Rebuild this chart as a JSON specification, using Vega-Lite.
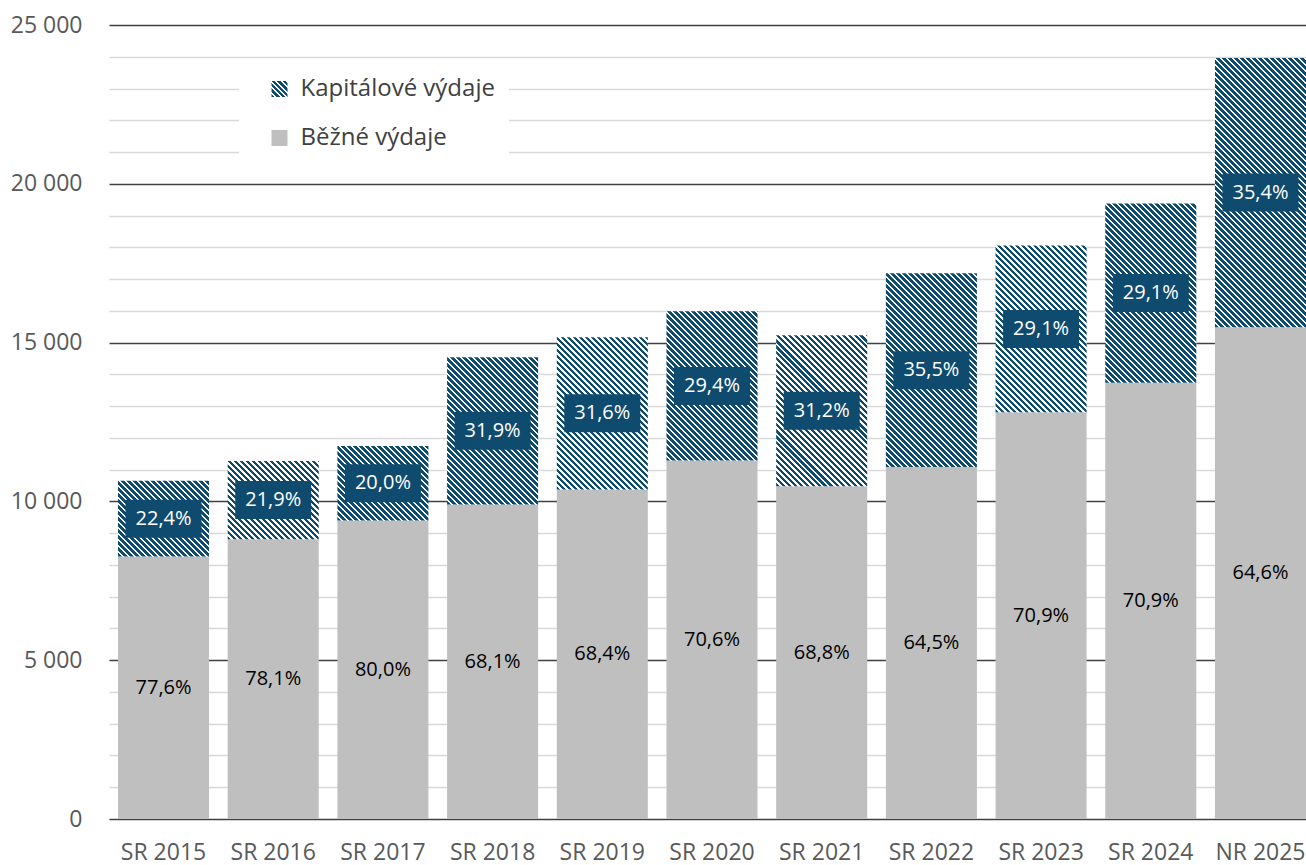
{
"$schema":"https://vega.github.io/schema/vega-lite/v6.json",
"width":1197,"height":794,"autosize":"none",
"padding":{"left":109,"top":25,"right":0,"bottom":46},
"background":"#ffffff",
"config":{"view":{"stroke":null},"font":"Open Sans","axis":{"labelFont":"Open Sans"},"legend":{"labelFont":"Open Sans"}},
"params":[
{"name":"hd","value":"#0f4b6e"},
{"name":"hw","value":"#ffffff"},
{"name":"hatch","expr":"[{offset:0,color:hd},{offset:0.0098,color:hd},{offset:0.0098,color:hw},{offset:0.0164,color:hw},{offset:0.0164,color:hd},{offset:0.0262,color:hd},{offset:0.0262,color:hw},{offset:0.0328,color:hw},{offset:0.0328,color:hd},{offset:0.0426,color:hd},{offset:0.0426,color:hw},{offset:0.0492,color:hw},{offset:0.0492,color:hd},{offset:0.059,color:hd},{offset:0.059,color:hw},{offset:0.0656,color:hw},{offset:0.0656,color:hd},{offset:0.0754,color:hd},{offset:0.0754,color:hw},{offset:0.082,color:hw},{offset:0.082,color:hd},{offset:0.0918,color:hd},{offset:0.0918,color:hw},{offset:0.0984,color:hw},{offset:0.0984,color:hd},{offset:0.1082,color:hd},{offset:0.1082,color:hw},{offset:0.1148,color:hw},{offset:0.1148,color:hd},{offset:0.1246,color:hd},{offset:0.1246,color:hw},{offset:0.1311,color:hw},{offset:0.1311,color:hd},{offset:0.141,color:hd},{offset:0.141,color:hw},{offset:0.1475,color:hw},{offset:0.1475,color:hd},{offset:0.1574,color:hd},{offset:0.1574,color:hw},{offset:0.1639,color:hw},{offset:0.1639,color:hd},{offset:0.1738,color:hd},{offset:0.1738,color:hw},{offset:0.1803,color:hw},{offset:0.1803,color:hd},{offset:0.1902,color:hd},{offset:0.1902,color:hw},{offset:0.1967,color:hw},{offset:0.1967,color:hd},{offset:0.2066,color:hd},{offset:0.2066,color:hw},{offset:0.2131,color:hw},{offset:0.2131,color:hd},{offset:0.223,color:hd},{offset:0.223,color:hw},{offset:0.2295,color:hw},{offset:0.2295,color:hd},{offset:0.2393,color:hd},{offset:0.2393,color:hw},{offset:0.2459,color:hw},{offset:0.2459,color:hd},{offset:0.2557,color:hd},{offset:0.2557,color:hw},{offset:0.2623,color:hw},{offset:0.2623,color:hd},{offset:0.2721,color:hd},{offset:0.2721,color:hw},{offset:0.2787,color:hw},{offset:0.2787,color:hd},{offset:0.2885,color:hd},{offset:0.2885,color:hw},{offset:0.2951,color:hw},{offset:0.2951,color:hd},{offset:0.3049,color:hd},{offset:0.3049,color:hw},{offset:0.3115,color:hw},{offset:0.3115,color:hd},{offset:0.3213,color:hd},{offset:0.3213,color:hw},{offset:0.3279,color:hw},{offset:0.3279,color:hd},{offset:0.3377,color:hd},{offset:0.3377,color:hw},{offset:0.3443,color:hw},{offset:0.3443,color:hd},{offset:0.3541,color:hd},{offset:0.3541,color:hw},{offset:0.3607,color:hw},{offset:0.3607,color:hd},{offset:0.3705,color:hd},{offset:0.3705,color:hw},{offset:0.377,color:hw},{offset:0.377,color:hd},{offset:0.3869,color:hd},{offset:0.3869,color:hw},{offset:0.3934,color:hw},{offset:0.3934,color:hd},{offset:0.4033,color:hd},{offset:0.4033,color:hw},{offset:0.4098,color:hw},{offset:0.4098,color:hd},{offset:0.4197,color:hd},{offset:0.4197,color:hw},{offset:0.4262,color:hw},{offset:0.4262,color:hd},{offset:0.4361,color:hd},{offset:0.4361,color:hw},{offset:0.4426,color:hw},{offset:0.4426,color:hd},{offset:0.4525,color:hd},{offset:0.4525,color:hw},{offset:0.459,color:hw},{offset:0.459,color:hd},{offset:0.4689,color:hd},{offset:0.4689,color:hw},{offset:0.4754,color:hw},{offset:0.4754,color:hd},{offset:0.4852,color:hd},{offset:0.4852,color:hw},{offset:0.4918,color:hw},{offset:0.4918,color:hd},{offset:0.5016,color:hd},{offset:0.5016,color:hw},{offset:0.5082,color:hw},{offset:0.5082,color:hd},{offset:0.518,color:hd},{offset:0.518,color:hw},{offset:0.5246,color:hw},{offset:0.5246,color:hd},{offset:0.5344,color:hd},{offset:0.5344,color:hw},{offset:0.541,color:hw},{offset:0.541,color:hd},{offset:0.5508,color:hd},{offset:0.5508,color:hw},{offset:0.5574,color:hw},{offset:0.5574,color:hd},{offset:0.5672,color:hd},{offset:0.5672,color:hw},{offset:0.5738,color:hw},{offset:0.5738,color:hd},{offset:0.5836,color:hd},{offset:0.5836,color:hw},{offset:0.5902,color:hw},{offset:0.5902,color:hd},{offset:0.6,color:hd},{offset:0.6,color:hw},{offset:0.6066,color:hw},{offset:0.6066,color:hd},{offset:0.6164,color:hd},{offset:0.6164,color:hw},{offset:0.623,color:hw},{offset:0.623,color:hd},{offset:0.6328,color:hd},{offset:0.6328,color:hw},{offset:0.6393,color:hw},{offset:0.6393,color:hd},{offset:0.6492,color:hd},{offset:0.6492,color:hw},{offset:0.6557,color:hw},{offset:0.6557,color:hd},{offset:0.6656,color:hd},{offset:0.6656,color:hw},{offset:0.6721,color:hw},{offset:0.6721,color:hd},{offset:0.682,color:hd},{offset:0.682,color:hw},{offset:0.6885,color:hw},{offset:0.6885,color:hd},{offset:0.6984,color:hd},{offset:0.6984,color:hw},{offset:0.7049,color:hw},{offset:0.7049,color:hd},{offset:0.7148,color:hd},{offset:0.7148,color:hw},{offset:0.7213,color:hw},{offset:0.7213,color:hd},{offset:0.7311,color:hd},{offset:0.7311,color:hw},{offset:0.7377,color:hw},{offset:0.7377,color:hd},{offset:0.7475,color:hd},{offset:0.7475,color:hw},{offset:0.7541,color:hw},{offset:0.7541,color:hd},{offset:0.7639,color:hd},{offset:0.7639,color:hw},{offset:0.7705,color:hw},{offset:0.7705,color:hd},{offset:0.7803,color:hd},{offset:0.7803,color:hw},{offset:0.7869,color:hw},{offset:0.7869,color:hd},{offset:0.7967,color:hd},{offset:0.7967,color:hw},{offset:0.8033,color:hw},{offset:0.8033,color:hd},{offset:0.8131,color:hd},{offset:0.8131,color:hw},{offset:0.8197,color:hw},{offset:0.8197,color:hd},{offset:0.8295,color:hd},{offset:0.8295,color:hw},{offset:0.8361,color:hw},{offset:0.8361,color:hd},{offset:0.8459,color:hd},{offset:0.8459,color:hw},{offset:0.8525,color:hw},{offset:0.8525,color:hd},{offset:0.8623,color:hd},{offset:0.8623,color:hw},{offset:0.8689,color:hw},{offset:0.8689,color:hd},{offset:0.8787,color:hd},{offset:0.8787,color:hw},{offset:0.8852,color:hw},{offset:0.8852,color:hd},{offset:0.8951,color:hd},{offset:0.8951,color:hw},{offset:0.9016,color:hw},{offset:0.9016,color:hd},{offset:0.9115,color:hd},{offset:0.9115,color:hw},{offset:0.918,color:hw},{offset:0.918,color:hd},{offset:0.9279,color:hd},{offset:0.9279,color:hw},{offset:0.9344,color:hw},{offset:0.9344,color:hd},{offset:0.9443,color:hd},{offset:0.9443,color:hw},{offset:0.9508,color:hw},{offset:0.9508,color:hd},{offset:0.9607,color:hd},{offset:0.9607,color:hw},{offset:0.9672,color:hw},{offset:0.9672,color:hd},{offset:0.977,color:hd},{offset:0.977,color:hw},{offset:0.9836,color:hw},{offset:0.9836,color:hd},{offset:0.9934,color:hd},{offset:0.9934,color:hw},{offset:1,color:hw}]"}
],
"data":{"values":[
{"cat":"SR 2015","type":"Běžné výdaje","value":8264,"pct":"77,6%"},
{"cat":"SR 2015","type":"Kapitálové výdaje","value":2386,"pct":"22,4%"},
{"cat":"SR 2016","type":"Běžné výdaje","value":8806,"pct":"78,1%"},
{"cat":"SR 2016","type":"Kapitálové výdaje","value":2469,"pct":"21,9%"},
{"cat":"SR 2017","type":"Běžné výdaje","value":9397,"pct":"80,0%"},
{"cat":"SR 2017","type":"Kapitálové výdaje","value":2349,"pct":"20,0%"},
{"cat":"SR 2018","type":"Běžné výdaje","value":9902,"pct":"68,1%"},
{"cat":"SR 2018","type":"Kapitálové výdaje","value":4639,"pct":"31,9%"},
{"cat":"SR 2019","type":"Běžné výdaje","value":10376,"pct":"68,4%"},
{"cat":"SR 2019","type":"Kapitálové výdaje","value":4794,"pct":"31,6%"},
{"cat":"SR 2020","type":"Běžné výdaje","value":11286,"pct":"70,6%"},
{"cat":"SR 2020","type":"Kapitálové výdaje","value":4700,"pct":"29,4%"},
{"cat":"SR 2021","type":"Běžné výdaje","value":10480,"pct":"68,8%"},
{"cat":"SR 2021","type":"Kapitálové výdaje","value":4752,"pct":"31,2%"},
{"cat":"SR 2022","type":"Běžné výdaje","value":11081,"pct":"64,5%"},
{"cat":"SR 2022","type":"Kapitálové výdaje","value":6099,"pct":"35,5%"},
{"cat":"SR 2023","type":"Běžné výdaje","value":12804,"pct":"70,9%"},
{"cat":"SR 2023","type":"Kapitálové výdaje","value":5255,"pct":"29,1%"},
{"cat":"SR 2024","type":"Běžné výdaje","value":13739,"pct":"70,9%"},
{"cat":"SR 2024","type":"Kapitálové výdaje","value":5639,"pct":"29,1%"},
{"cat":"NR 2025","type":"Běžné výdaje","value":15481,"pct":"64,6%"},
{"cat":"NR 2025","type":"Kapitálové výdaje","value":8483,"pct":"35,4%"}
]},
"transform":[
{"stack":"value","groupby":["cat"],"sort":[{"field":"type","order":"ascending"}],"as":["v0","v1"]},
{"calculate":"(datum.v0+datum.v1)/2","as":"mid"}
],
"encoding":{"x":{"field":"cat","type":"nominal","sort":null,"scale":{"paddingInner":0.17,"paddingOuter":0.041,"align":1},"axis":{"title":null,"labelAngle":0,"ticks":false,"domain":false,"labelFontSize":23,"labelColor":"#595959","labelPadding":22}}},
"layer":[
{"transform":[{"filter":"datum.type === 'Běžné výdaje'"}],
"mark":{"type":"bar"},
"encoding":{
"y":{"field":"v1","type":"quantitative","scale":{"domain":[0,25000],"nice":false},"axis":{"title":null,"values":[0,1000,2000,3000,4000,5000,6000,7000,8000,9000,10000,11000,12000,13000,14000,15000,16000,17000,18000,19000,20000,21000,22000,23000,24000,25000],"labelExpr":"datum.value % 5000 === 0 ? replace(format(datum.value, ','), ',', ' ') : ''","labelOverlap":false,"grid":true,"gridColor":{"condition":{"test":"datum.value % 5000 === 0","value":"#404040"},"value":"#d9d9d9"},"gridWidth":1.5,"ticks":false,"domain":false,"labelFontSize":23,"labelColor":"#595959","labelPadding":27}},
"y2":{"field":"v0"},
"color":{"field":"type","type":"nominal","scale":{"domain":["Kapitálové výdaje","Běžné výdaje"],"range":[{"expr":"{gradient: 'linear', x1: 0, y1: 1, x2: 1, y2: 0, stops: [{offset: 0, color: hd}, {offset: 0.1, color: hd}, {offset: 0.1, color: hw}, {offset: 0.1667, color: hw}, {offset: 0.1667, color: hd}, {offset: 0.2667, color: hd}, {offset: 0.2667, color: hw}, {offset: 0.3333, color: hw}, {offset: 0.3333, color: hd}, {offset: 0.4333, color: hd}, {offset: 0.4333, color: hw}, {offset: 0.5, color: hw}, {offset: 0.5, color: hd}, {offset: 0.6, color: hd}, {offset: 0.6, color: hw}, {offset: 0.6667, color: hw}, {offset: 0.6667, color: hd}, {offset: 0.7667, color: hd}, {offset: 0.7667, color: hw}, {offset: 0.8333, color: hw}, {offset: 0.8333, color: hd}, {offset: 0.9333, color: hd}, {offset: 0.9333, color: hw}, {offset: 1, color: hw}]}"},"#bfbfbf"]},
"legend":{"orient":"none","legendX":130,"legendY":38,"title":null,"fillColor":"#ffffff","padding":14,"symbolType":"square","symbolSize":256,"symbolStrokeWidth":0,"symbolOffset":14.5,"labelOffset":9,"labelFontSize":24,"labelLimit":500,"labelColor":"#404040","rowPadding":25}}
}},
{"transform":[{"filter":"datum.type === 'Kapitálové výdaje'"}],
"mark":{"type":"bar","fill":{"expr":"{gradient: 'linear', x1: 0, y1: 1, x2: 366 * bandwidth('x') / (pow(bandwidth('x'), 2) + pow(scale('y', datum.v0) - scale('y', datum.v1), 2)), y2: 1 - 366 * (scale('y', datum.v0) - scale('y', datum.v1)) / (pow(bandwidth('x'), 2) + pow(scale('y', datum.v0) - scale('y', datum.v1), 2)), stops: hatch}"}},
"encoding":{
"y":{"field":"v1","type":"quantitative","axis":{"title":null,"values":[0,1000,2000,3000,4000,5000,6000,7000,8000,9000,10000,11000,12000,13000,14000,15000,16000,17000,18000,19000,20000,21000,22000,23000,24000,25000],"labelExpr":"datum.value % 5000 === 0 ? replace(format(datum.value, ','), ',', ' ') : ''","labelOverlap":false,"grid":true,"gridColor":{"condition":{"test":"datum.value % 5000 === 0","value":"#404040"},"value":"#d9d9d9"},"gridWidth":1.5,"ticks":false,"domain":false,"labelFontSize":23,"labelColor":"#595959","labelPadding":27}},
"y2":{"field":"v0"}
}},
{"transform":[{"filter":"datum.type === 'Kapitálové výdaje'"}],
"mark":{"type":"point","shape":"M-1,-0.5H1V0.5H-1Z","size":5776,"filled":true,"fill":"#0f4b6e","opacity":1,"strokeWidth":0},
"encoding":{"y":{"field":"mid","type":"quantitative","axis":{"title":null,"values":[0,1000,2000,3000,4000,5000,6000,7000,8000,9000,10000,11000,12000,13000,14000,15000,16000,17000,18000,19000,20000,21000,22000,23000,24000,25000],"labelExpr":"datum.value % 5000 === 0 ? replace(format(datum.value, ','), ',', ' ') : ''","labelOverlap":false,"grid":true,"gridColor":{"condition":{"test":"datum.value % 5000 === 0","value":"#404040"},"value":"#d9d9d9"},"gridWidth":1.5,"ticks":false,"domain":false,"labelFontSize":23,"labelColor":"#595959","labelPadding":27}}}},
{"mark":{"type":"text","fontSize":20,"font":"Open Sans","baseline":"middle","align":"center"},
"encoding":{
"y":{"field":"mid","type":"quantitative","axis":{"title":null,"values":[0,1000,2000,3000,4000,5000,6000,7000,8000,9000,10000,11000,12000,13000,14000,15000,16000,17000,18000,19000,20000,21000,22000,23000,24000,25000],"labelExpr":"datum.value % 5000 === 0 ? replace(format(datum.value, ','), ',', ' ') : ''","labelOverlap":false,"grid":true,"gridColor":{"condition":{"test":"datum.value % 5000 === 0","value":"#404040"},"value":"#d9d9d9"},"gridWidth":1.5,"ticks":false,"domain":false,"labelFontSize":23,"labelColor":"#595959","labelPadding":27}},
"text":{"field":"pct"},
"color":{"condition":{"test":"datum.type === 'Kapitálové výdaje'","value":"#ffffff"},"value":"#000000"}}}
]
}
